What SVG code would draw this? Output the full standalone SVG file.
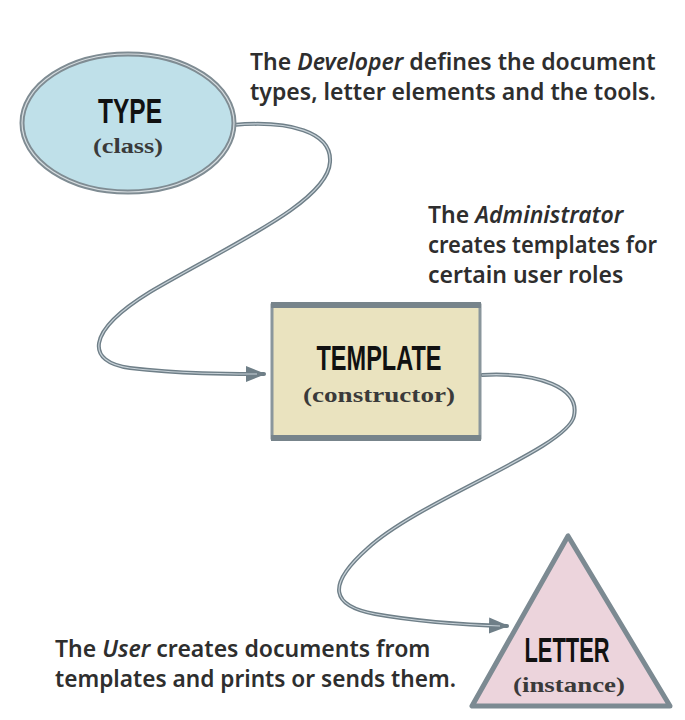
<svg xmlns="http://www.w3.org/2000/svg" width="685" height="720" viewBox="0 0 685 720">
  <defs>
    <style>
      .cap { font-family: "Noto Sans", "Liberation Sans", sans-serif; font-size: 23px; font-weight: 600; fill: #2e2e2e; }
      .title { font-family: "Liberation Sans", "Noto Sans", sans-serif; font-weight: 700; fill: #111; text-anchor: middle; }
      .sub { font-family: "Liberation Serif", serif; font-weight: 700; font-size: 22px; fill: #3a3a3a; text-anchor: middle; }
      .conn { fill: none; stroke: #6f7f88; stroke-width: 4; stroke-linecap: round; }
      .connhl { fill: none; stroke: #c8d2d8; stroke-width: 1.2; }
    </style>
    <marker id="arrow" viewBox="0 0 10 10" refX="9" refY="5" markerWidth="5" markerHeight="5" orient="auto" markerUnits="strokeWidth">
      <path d="M0,1 L10,5 L0,9 Z" fill="#6f7f88"/>
    </marker>
  </defs>
  <rect width="685" height="720" fill="#ffffff"/>

  <g id="connectors">
    <path class="conn" d="M233,125 C290,120 332,132 330,162 C328,202 230,245 150,292 C85,332 86,362 130,368 C180,374 228,374 264,374" marker-end="url(#arrow)"/>
    <path class="connhl" d="M233,125 C290,120 332,132 330,162 C328,202 230,245 150,292 C85,332 86,362 130,368 C180,374 228,374 257,374"/>
    <path class="conn" d="M482,375 C540,372 580,388 574,416 C568,448 420,500 368,548 C325,586 332,606 375,614 C425,623 470,625 507,626" marker-end="url(#arrow)"/>
    <path class="connhl" d="M482,375 C540,372 580,388 574,416 C568,448 420,500 368,548 C325,586 332,606 375,614 C425,623 470,625 500,626"/>
  </g>

  <g id="type">
    <ellipse cx="128" cy="123" rx="106" ry="69" fill="#bfe0e9" stroke="#7f8c93" stroke-width="5"/>
    <ellipse cx="128" cy="123" rx="106" ry="69" fill="none" stroke="#d7dde0" stroke-width="1.2"/>
    <text class="title" x="130" y="123" font-size="35" textLength="64" lengthAdjust="spacingAndGlyphs">TYPE</text>
    <text class="sub" x="128" y="153" textLength="70" lengthAdjust="spacingAndGlyphs">(class)</text>
  </g>

  <g id="template">
    <rect x="272" y="305" width="208" height="133" fill="#eae3bf" stroke="#8a969c" stroke-width="3"/>
    <rect x="271" y="302" width="210" height="6" fill="#77848b"/>
    <rect x="271" y="435" width="210" height="6" fill="#77848b"/>
    <text class="title" x="379" y="370" font-size="35" textLength="125" lengthAdjust="spacingAndGlyphs">TEMPLATE</text>
    <text class="sub" x="379" y="402" textLength="152" lengthAdjust="spacingAndGlyphs">(constructor)</text>
  </g>

  <g id="letter">
    <polygon points="568,536 472,706 670,706" fill="#ecd4dc" stroke="#7c8a92" stroke-width="5" stroke-linejoin="round"/>
    <text class="title" x="567" y="662" font-size="35" textLength="85" lengthAdjust="spacingAndGlyphs">LETTER</text>
    <text class="sub" x="569" y="692" textLength="112" lengthAdjust="spacingAndGlyphs">(instance)</text>
  </g>

  <g id="captions">
    <text class="cap" x="250" y="70">The <tspan font-style="italic">Developer</tspan> defines the document</text>
    <text class="cap" x="250" y="100">types, letter elements and the tools.</text>
    <text class="cap" x="428" y="223">The <tspan font-style="italic">Administrator</tspan></text>
    <text class="cap" x="428" y="253" textLength="229" lengthAdjust="spacingAndGlyphs">creates templates for</text>
    <text class="cap" x="428" y="283">certain user roles</text>
    <text class="cap" x="55" y="657">The <tspan font-style="italic">User</tspan> creates documents from</text>
    <text class="cap" x="55" y="687" textLength="401" lengthAdjust="spacingAndGlyphs">templates and prints or sends them.</text>
  </g>
</svg>
